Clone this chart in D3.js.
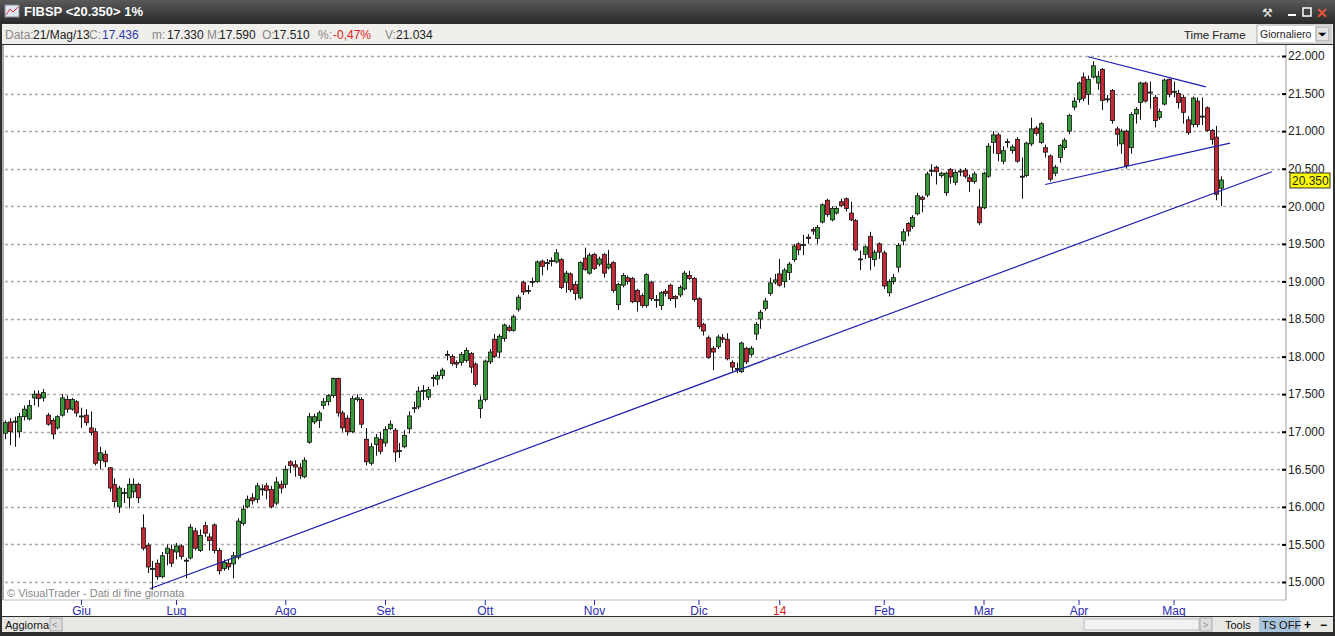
<!DOCTYPE html>
<html>
<head>
<script src="https://cdn.jsdelivr.net/npm/d3@7"></script>
<style>
  body { margin:0; background:#2b2b2b; }
  text { font-family: "Liberation Sans", Arial, sans-serif; }
</style>
</head>
<body>
<script>
// daily candles, oldest first (from 21/Mag/13)
var opens = [
16.98,17.13,17.13,17.00,17.20,17.17,17.45,17.50,17.45,17.22,
17.15,17.05,17.22,17.43,17.30,17.40,17.20,17.22,17.05,17.00,
16.62,16.70,16.52,16.30,16.00,16.18,16.12,16.20,16.30,15.72,
15.49,15.17,15.25,15.07,15.38,15.43,15.40,15.48,15.28,15.32,
15.68,15.42,15.75,15.60,15.76,15.42,15.18,15.25,15.24,15.33,
15.78,16.00,16.12,16.10,16.24,16.28,16.23,16.05,16.30,16.30,
16.60,16.56,16.52,16.40,16.86,17.13,17.15,17.35,17.40,17.48,
17.71,17.25,17.18,17.00,17.43,17.43,16.90,16.58,16.83,16.90,
16.85,17.04,17.02,16.74,16.80,17.04,17.31,17.33,17.54,17.46,
17.71,17.70,17.75,18.02,18.00,17.92,17.92,17.95,18.04,17.90,
17.31,17.43,17.93,18.23,18.06,18.24,18.39,18.35,18.63,18.99,
18.87,18.99,19.00,19.27,19.25,19.27,19.26,19.29,18.99,19.10,
18.96,18.78,19.31,19.11,19.36,19.23,19.36,19.18,19.25,18.69,
18.95,19.05,19.04,18.88,18.81,18.68,18.99,18.75,18.68,18.87,
18.95,18.80,18.82,18.90,19.08,19.04,18.77,18.43,18.25,18.11,
18.13,18.25,18.23,17.92,17.83,17.80,18.11,18.03,18.30,18.50,
18.64,18.84,18.99,19.10,19.00,19.12,19.29,19.50,19.48,19.59,
19.69,19.57,19.79,20.08,19.82,19.91,20.06,20.10,19.91,19.81,
19.29,19.36,19.60,19.29,19.50,19.38,18.85,19.00,19.19,19.54,
19.77,19.73,19.90,20.12,20.15,20.47,20.52,20.41,20.18,20.49,
20.32,20.46,20.48,20.38,20.33,19.99,19.98,20.40,20.85,20.95,
20.60,20.85,20.74,20.89,20.39,20.41,20.83,21.04,20.85,20.78,
20.67,20.44,20.65,20.78,21.00,21.32,21.42,21.72,21.49,21.72,
21.64,21.82,21.42,21.54,21.03,20.83,21.00,20.78,21.23,21.38,
21.64,21.51,21.45,21.18,21.36,21.69,21.52,21.50,21.45,21.15,
21.09,21.40,21.19,21.31,21.01,20.92,20.24];
var closes = [
17.12,17.00,17.14,17.20,17.30,17.35,17.50,17.44,17.52,17.10,
16.97,17.20,17.45,17.30,17.43,17.25,17.21,17.12,16.99,16.58,
16.72,16.60,16.25,16.07,16.25,16.19,16.30,16.30,16.12,15.45,
15.20,15.18,15.07,15.35,15.45,15.25,15.48,15.34,15.29,15.73,
15.45,15.62,15.65,15.55,15.42,15.15,15.26,15.20,15.35,15.81,
15.97,16.10,16.08,16.28,16.23,16.22,16.00,16.33,16.25,16.50,
16.55,16.53,16.42,16.62,17.20,17.20,17.25,17.40,17.48,17.71,
17.25,17.05,17.00,17.44,17.45,17.10,16.60,16.80,16.92,16.74,
17.03,17.10,16.73,16.75,16.95,17.21,17.32,17.54,17.55,17.56,
17.72,17.75,17.82,18.03,17.91,17.90,18.03,18.08,17.86,17.63,
17.42,17.94,18.06,18.00,18.27,18.42,18.35,18.53,18.79,18.86,
18.88,19.00,19.26,19.20,19.25,19.28,19.38,18.92,19.11,18.89,
18.84,19.25,19.16,19.35,19.17,19.30,19.11,19.23,18.88,18.96,
19.08,19.00,18.73,18.73,18.68,19.09,18.77,18.76,18.85,18.84,
18.77,18.77,18.92,19.11,19.04,18.76,18.40,18.34,17.99,18.06,
18.26,18.23,17.97,17.86,17.84,18.18,17.93,18.11,18.43,18.59,
18.74,18.98,19.02,18.95,19.15,19.23,19.47,19.42,19.49,19.57,
19.67,19.72,20.02,19.89,19.97,19.97,20.01,19.97,19.82,19.42,
19.30,19.46,19.32,19.39,19.39,18.94,19.00,19.05,19.48,19.66,
19.67,19.85,20.14,20.09,20.43,20.48,20.46,20.44,20.44,20.39,
20.45,20.47,20.40,20.33,20.43,19.78,20.44,20.80,20.95,20.70,
20.74,20.86,20.79,20.60,20.40,20.84,21.03,20.97,21.10,20.72,
20.36,20.52,20.81,20.88,21.21,21.40,21.64,21.44,21.69,21.87,
21.73,21.41,21.43,21.14,20.96,21.00,20.54,21.22,21.29,21.64,
21.40,21.52,21.14,21.26,21.68,21.49,21.53,21.38,21.25,20.98,
21.44,21.09,21.20,21.01,20.89,20.16,20.35];
var highs = [
17.15,17.18,17.20,17.25,17.35,17.42,17.55,17.55,17.57,17.25,
17.18,17.22,17.50,17.48,17.45,17.42,17.32,17.30,17.27,17.05,
16.80,16.75,16.53,16.38,16.28,16.25,16.38,16.38,16.32,15.90,
15.52,15.28,15.30,15.40,15.50,15.50,15.52,15.50,15.32,15.77,
15.72,15.70,15.80,15.65,15.78,15.45,15.30,15.30,15.40,15.85,
16.02,16.15,16.18,16.32,16.30,16.32,16.28,16.40,16.35,16.55,
16.62,16.62,16.58,16.66,17.25,17.24,17.28,17.45,17.50,17.72,
17.72,17.28,17.22,17.48,17.50,17.46,17.05,16.85,16.97,17.00,
17.07,17.15,17.05,16.85,17.02,17.27,17.40,17.60,17.62,17.60,
17.76,17.80,17.85,18.08,18.03,17.95,18.06,18.12,18.06,17.92,
17.48,17.96,18.10,18.30,18.30,18.44,18.42,18.56,18.82,19.01,
18.95,19.05,19.28,19.29,19.30,19.32,19.43,19.31,19.14,19.12,
19.00,19.27,19.45,19.38,19.38,19.33,19.38,19.42,19.27,18.98,
19.11,19.08,19.06,18.90,18.84,19.11,19.01,18.82,18.87,18.90,
18.97,18.82,18.95,19.14,19.14,19.06,18.79,18.45,18.28,18.14,
18.29,18.30,18.31,17.95,17.92,18.20,18.13,18.14,18.46,18.62,
18.78,19.05,19.10,19.30,19.18,19.26,19.50,19.52,19.62,19.63,
19.72,19.75,20.04,20.10,20.00,20.00,20.10,20.12,20.06,19.83,
19.41,19.48,19.66,19.42,19.52,19.41,19.03,19.10,19.51,19.70,
19.79,19.88,20.18,20.14,20.46,20.56,20.54,20.46,20.46,20.51,
20.48,20.50,20.51,20.42,20.46,20.23,20.46,20.84,21.00,20.98,
20.80,20.90,20.82,20.92,20.65,20.86,21.18,21.07,21.12,20.82,
20.69,20.55,20.83,20.91,21.23,21.45,21.66,21.78,21.74,21.93,
21.80,21.84,21.48,21.56,21.06,21.03,21.02,21.25,21.32,21.66,
21.66,21.66,21.48,21.30,21.70,21.70,21.66,21.55,21.48,21.20,
21.46,21.45,21.45,21.33,21.03,21.07,20.40];
var lows = [
16.90,16.82,16.80,16.92,17.15,17.15,17.35,17.33,17.40,17.08,
16.90,17.03,17.20,17.25,17.28,17.20,17.05,17.08,16.95,16.55,
16.50,16.53,16.20,16.00,15.92,16.05,15.98,16.12,16.05,15.42,
15.12,14.90,15.03,15.05,15.22,15.20,15.30,15.30,15.05,15.30,
15.42,15.40,15.60,15.42,15.38,15.10,15.15,15.16,15.05,15.30,
15.75,15.98,16.03,16.05,16.15,16.10,15.98,16.02,16.18,16.25,
16.45,16.40,16.37,16.38,16.84,17.10,17.05,17.30,17.35,17.45,
17.20,17.00,16.95,16.98,17.40,17.05,16.55,16.55,16.68,16.70,
16.80,17.02,16.60,16.65,16.78,16.98,17.25,17.30,17.42,17.42,
17.60,17.62,17.70,17.95,17.88,17.85,17.88,17.92,17.78,17.60,
17.18,17.40,17.90,17.98,17.98,18.20,18.33,18.33,18.60,18.82,
18.83,18.93,18.98,19.08,19.15,19.20,19.24,18.90,18.85,18.86,
18.75,18.76,19.14,19.09,19.15,19.20,19.05,19.16,18.85,18.62,
18.92,18.96,18.71,18.60,18.65,18.65,18.74,18.65,18.62,18.80,
18.74,18.65,18.79,18.88,19.02,18.73,18.37,18.28,17.97,17.82,
18.10,18.18,17.95,17.80,17.78,17.78,17.90,18.00,18.22,18.37,
18.61,18.81,18.96,18.93,18.92,19.02,19.26,19.35,19.35,19.50,
19.62,19.50,19.77,19.86,19.80,19.89,19.99,19.93,19.80,19.40,
19.15,19.30,19.15,19.20,19.30,18.90,18.80,18.96,19.12,19.48,
19.60,19.70,19.88,19.92,20.12,20.40,20.29,20.38,20.14,20.30,
20.28,20.40,20.37,20.19,20.30,19.75,19.96,20.38,20.70,20.60,
20.56,20.78,20.70,20.58,20.10,20.39,20.80,20.94,20.83,20.65,
20.33,20.40,20.58,20.75,20.96,21.28,21.38,21.40,21.35,21.70,
21.55,21.28,21.38,21.10,20.80,20.70,20.50,20.70,21.10,21.15,
21.38,21.30,21.05,21.15,21.34,21.45,21.45,21.30,21.10,20.95,
21.05,21.05,21.08,20.99,20.82,20.08,20.00];

var monthLabels = ["Giu","Lug","Ago","Set","Ott","Nov","Dic","14","Feb","Mar","Apr","Mag"];
var monthIdx    = [16, 36, 59, 80, 101, 124, 146, 163, 185, 206, 226, 246];
var priceTicks  = [15,15.5,16,16.5,17,17.5,18,18.5,19,19.5,20,20.5,21,21.5,22];

// trendlines as [candle index, price] pairs
var trendLines = [
  [[30.5, 14.91], [266.7, 20.46]],
  [[228.0, 21.99], [252.8, 21.59]],
  [[219.0, 20.29], [257.9, 20.84]]
];

var W = 1335, H = 636;
var svg = d3.select("body").append("svg").attr("width", W).attr("height", H);

// window chrome
svg.append("rect").attr("width", W).attr("height", H).attr("fill", "#2e2e2e");
var tg = svg.append("linearGradient").attr("id","tb").attr("x1",0).attr("x2",0).attr("y1",0).attr("y2",1);
tg.append("stop").attr("offset","0").attr("stop-color","#5a5a5a");
tg.append("stop").attr("offset","1").attr("stop-color","#2a2a2a");
svg.append("rect").attr("width", W).attr("height", 23).attr("fill", "url(#tb)");
svg.append("rect").attr("x",5).attr("y",5).attr("width",14).attr("height",12).attr("fill","#dfe6f0").attr("stroke","#889");
svg.append("path").attr("d","M6,15 L10,9 L13,12 L18,7").attr("stroke","#d33").attr("fill","none");
svg.append("text").attr("x",24).attr("y",16).attr("fill","#fff").attr("font-weight","bold").attr("font-size",13).text("FIBSP <20.350> 1%");
svg.append("text").attr("x",1262).attr("y",17).attr("fill","#eee").attr("font-size",12).text("⚒");
svg.append("rect").attr("x",1288).attr("y",14).attr("width",8).attr("height",2).attr("fill","#fff");
svg.append("rect").attr("x",1303).attr("y",8).attr("width",8).attr("height",8).attr("fill","none").attr("stroke","#fff").attr("stroke-width",1.5);
svg.append("text").attr("x",1316).attr("y",18).attr("fill","#e8553a").attr("font-weight","bold").attr("font-size",14).text("✕");

// info bar
svg.append("rect").attr("x",2).attr("y",24).attr("width",W-4).attr("height",20).attr("fill","#f0efeb");
[[5,"Data:","#888"],[33,"21/Mag/13","#222"],[89,"C:","#888"],[102,"17.436","#2a3bb0"],
 [152,"m:","#888"],[167,"17.330","#222"],[207,"M:","#888"],[219,"17.590","#222"],
 [262,"O:","#888"],[273,"17.510","#222"],[318,"%:","#888"],[333,"-0,47%","#e02020"],
 [385,"V:","#888"],[396,"21.034","#222"]]
  .forEach(function(p){
    svg.append("text").attr("x",p[0]).attr("y",39).attr("font-size",12).attr("fill",p[2]).text(p[1]);
  });
svg.append("text").attr("x",1184).attr("y",39).attr("font-size",11.5).attr("fill","#222").text("Time Frame");
svg.append("rect").attr("x",1257).attr("y",25).attr("width",74).attr("height",18).attr("fill","#fff").attr("stroke","#aaa");
svg.append("text").attr("x",1260).attr("y",38).attr("font-size",10.5).attr("fill","#222").text("Giornaliero");
svg.append("rect").attr("x",1316).attr("y",27).attr("width",13).attr("height",14).attr("fill","#e4e4e4").attr("stroke","#999");
svg.append("text").attr("x",1318).attr("y",38).attr("font-size",11).text("⏷");

// plot + axes background
svg.append("rect").attr("x",2).attr("y",45).attr("width",W-4).attr("height",571).attr("fill","#fff");
svg.append("line").attr("x1",3).attr("x2",3).attr("y1",45).attr("y2",600).attr("stroke","#555");

var x = d3.scaleLinear().domain([0, 256]).range([5, 1221]);
var y = d3.scaleLinear().domain([15, 22]).range([582, 56]);

var plotR = 1286, plotB = 600;
svg.append("line").attr("x1",plotR).attr("x2",plotR).attr("y1",45).attr("y2",plotB).attr("stroke","#999");
svg.append("line").attr("x1",3).attr("x2",plotR).attr("y1",plotB).attr("y2",plotB).attr("stroke","#bbb");

// grid
svg.append("g").selectAll("line").data(priceTicks).enter().append("line")
  .attr("x1",5).attr("x2",plotR).attr("y1",function(d){return Math.round(y(d))+0.5;}).attr("y2",function(d){return Math.round(y(d))+0.5;})
  .attr("stroke","#aaa").attr("stroke-width",1.6).attr("stroke-dasharray","3,3");

// right axis
var yAxis = d3.axisRight(y).tickValues(priceTicks).tickSize(4).tickFormat(d3.format(".3f"));
var ya = svg.append("g").attr("transform","translate(" + (plotR-4) + ",0)").call(yAxis);
ya.select(".domain").remove();
ya.selectAll("line").attr("stroke","#000").attr("stroke-width",2);
ya.selectAll("text").attr("font-size",12).attr("fill","#222").attr("x",6);

// bottom axis
var xa = svg.append("g").attr("transform","translate(0," + plotB + ")")
  .call(d3.axisBottom(x).tickValues(monthIdx).tickSize(5).tickFormat(function(d,i){return monthLabels[i];}));
xa.select(".domain").remove();
xa.selectAll("line").attr("stroke","#2a2ab0");
xa.selectAll("text").attr("font-size",12).attr("dy","0.55em")
  .attr("fill", function(d,i){ return monthLabels[i]==="14" ? "#d02020" : "#2a2ab0"; });

svg.append("text").attr("x",7).attr("y",597).attr("font-size",11).attr("fill","#888").text("© VisualTrader - Dati di fine giornata");

// candles
var g = svg.append("g");
var bw = 4;
d3.range(closes.length).forEach(function(i){
  var cx = Math.round(x(i)) + 0.5;
  var up = closes[i] >= opens[i];
  g.append("line").attr("x1",cx).attr("x2",cx).attr("y1",y(highs[i])).attr("y2",y(lows[i])).attr("stroke","#111");
  var top = y(Math.max(opens[i],closes[i])), bot = y(Math.min(opens[i],closes[i]));
  g.append("rect").attr("x",cx-bw/2).attr("y",top).attr("width",bw).attr("height",Math.max(1,bot-top))
    .attr("fill", up ? "#3a9a3a" : "#c42a35").attr("stroke","#111").attr("stroke-width",0.8);
});

// trendlines
svg.append("g").selectAll("line").data(trendLines).enter().append("line")
  .attr("x1",function(d){return x(d[0][0]);}).attr("y1",function(d){return y(d[0][1]);})
  .attr("x2",function(d){return x(d[1][0]);}).attr("y2",function(d){return y(d[1][1]);})
  .attr("stroke","#1c1cb0").attr("stroke-width",1.2);

// last price marker
var last = closes[closes.length-1];
svg.append("rect").attr("x",1290).attr("y",y(last)-7).attr("width",40).attr("height",15).attr("fill","#ffff00").attr("stroke","#333");
svg.append("text").attr("x",1292).attr("y",y(last)+5).attr("font-size",12).attr("fill","#222").text(d3.format(".3f")(last));

// bottom bar
svg.append("rect").attr("x",2).attr("y",617).attr("width",W-4).attr("height",15).attr("fill","#e8e7e3");
svg.append("text").attr("x",5).attr("y",629).attr("font-size",11).attr("fill","#111").text("Aggiorna");
svg.append("rect").attr("x",50).attr("y",618).attr("width",12).attr("height",13).attr("fill","#ddd").attr("stroke","#aaa");
svg.append("text").attr("x",52).attr("y",628).attr("font-size",9).attr("fill","#888").text("<");
svg.append("rect").attr("x",1084).attr("y",619).attr("width",115).attr("height",11).attr("fill","#f2f2f2").attr("stroke","#bbb");
svg.append("rect").attr("x",1200).attr("y",618).attr("width",12).attr("height",13).attr("fill","#ddd").attr("stroke","#aaa");
svg.append("text").attr("x",1203).attr("y",628).attr("font-size",9).attr("fill","#888").text(">");
svg.append("text").attr("x",1225).attr("y",629).attr("font-size",11).attr("fill","#111").text("Tools");
svg.append("rect").attr("x",1259).attr("y",617).attr("width",41).attr("height",15).attr("fill","#aac4dc");
svg.append("text").attr("x",1262).attr("y",629).attr("font-size",11).attr("fill","#111").text("TS OFF");
svg.append("text").attr("x",1304).attr("y",629).attr("font-size",12).attr("font-weight","bold").text("+");
svg.append("text").attr("x",1320).attr("y",629).attr("font-size",12).attr("font-weight","bold").text("−");
</script>
</body>
</html>
